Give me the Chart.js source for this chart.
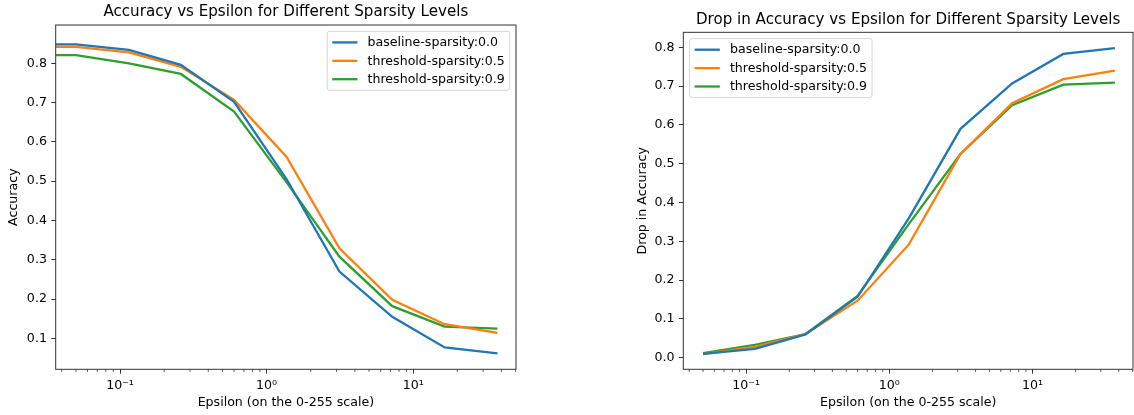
<!DOCTYPE html>
<html><head><meta charset="utf-8">
<script src="https://cdn.jsdelivr.net/npm/chart.js@4.4.1/dist/chart.umd.min.js"></script>
<style>
html,body{margin:0;padding:0;background:#fff;width:1134px;height:415px;overflow:hidden}
.box{position:absolute;top:0;height:415px}
#b1{left:0;width:560px}
#b2{left:567px;width:567px}
canvas{display:block}
</style></head><body>
<div class="box" id="b1"><canvas id="c1" width="560" height="415"></canvas></div>
<div class="box" id="b2"><canvas id="c2" width="567" height="415"></canvas></div>
<script>
// ---- data ----
const seriesLabels = ['baseline-sparsity:0.0', 'threshold-sparsity:0.5', 'threshold-sparsity:0.9'];
const seriesColors = ['#1f77b4', '#ff7f0e', '#2ca02c'];

// accuracy chart (epsilon 0 = clean accuracy)
const accEpsilons  = [0, 0.05, 0.115, 0.26, 0.6, 1.37, 3.14, 7.2, 16.4, 37.6];
const accBaseline  = [0.848, 0.848, 0.834, 0.796, 0.702, 0.505, 0.270, 0.155, 0.077, 0.062];
const accThresh05  = [0.842, 0.842, 0.828, 0.791, 0.707, 0.562, 0.329, 0.198, 0.136, 0.114];
const accThresh09  = [0.821, 0.821, 0.800, 0.773, 0.677, 0.497, 0.308, 0.182, 0.130, 0.125];

// drop-in-accuracy chart
const dropEpsilons = [0.05, 0.115, 0.26, 0.6, 1.37, 3.14, 7.2, 16.4, 37.6];
const dropBaseline = [0.010, 0.023, 0.060, 0.157, 0.360, 0.590, 0.707, 0.783, 0.798];
const dropThresh05 = [0.009, 0.028, 0.061, 0.147, 0.292, 0.525, 0.656, 0.718, 0.740];
const dropThresh09 = [0.012, 0.033, 0.061, 0.159, 0.345, 0.525, 0.651, 0.704, 0.709];

// ticks
const xTickValues = [0.1, 1, 10];
const xTickLabels = ['10\u207B\u00B9', '10\u2070', '10\u00B9'];
const accTicks  = [0.1, 0.2, 0.3, 0.4, 0.5, 0.6, 0.7, 0.8];
const dropTicks = [0.0, 0.1, 0.2, 0.3, 0.4, 0.5, 0.6, 0.7, 0.8];

const xAxisTitle = 'Epsilon (on the 0-255 scale)';
const xMin = 0.0364, xMax = 50.3;

// ---- styling ----
Chart.defaults.font.family = '"DejaVu Sans", sans-serif';
Chart.defaults.color = '#000';
const FS = 12.6;
const LW = 2.3;

const framePlugin = {
  id: 'frame',
  afterDatasetsDraw(chart) {
    const {ctx, chartArea: ca} = chart;
    ctx.save();
    ctx.strokeStyle = '#333';
    ctx.lineWidth = 1;
    ctx.strokeRect(ca.left, ca.top, ca.right - ca.left, ca.bottom - ca.top);
    // minor log ticks
    const sx = chart.scales.x;
    ctx.lineWidth = 0.8;
    ctx.beginPath();
    for (let k = -2; k <= 1; k++) {
      for (let m = 2; m <= 9; m++) {
        const v = m * Math.pow(10, k);
        if (v <= sx.min || v >= sx.max) continue;
        const px = sx.getPixelForValue(v);
        ctx.moveTo(px, ca.bottom);
        ctx.lineTo(px, ca.bottom + 2.6);
      }
    }
    ctx.stroke();
    ctx.restore();
  }
};

const boxLegendPlugin = {
  id: 'boxLegend',
  afterDatasetsDraw(chart, args, opts) {
    const {ctx, chartArea: ca} = chart;
    ctx.save();
    ctx.font = FS + 'px "DejaVu Sans"';
    const items = chart.data.datasets;
    const textW = Math.max(...items.map(d => ctx.measureText(d.label).width));
    const pad = 0.4 * FS, handleLen = 2 * FS, handlePad = 0.8 * FS, spacing = 0.5 * FS, axPad = 0.5 * FS;
    const rowH = 12.1;
    const w = pad + handleLen + handlePad + textW + pad;
    const h = 2 * pad + items.length * rowH + (items.length - 1) * spacing;
    const left = opts.corner === 'right' ? ca.right - axPad - w : ca.left + axPad;
    const top = ca.top + axPad;
    const r = 2.5;
    ctx.beginPath();
    ctx.moveTo(left + r, top);
    ctx.lineTo(left + w - r, top);
    ctx.arcTo(left + w, top, left + w, top + r, r);
    ctx.lineTo(left + w, top + h - r);
    ctx.arcTo(left + w, top + h, left + w - r, top + h, r);
    ctx.lineTo(left + r, top + h);
    ctx.arcTo(left, top + h, left, top + h - r, r);
    ctx.lineTo(left, top + r);
    ctx.arcTo(left, top, left + r, top, r);
    ctx.closePath();
    ctx.fillStyle = 'rgba(255,255,255,0.8)';
    ctx.fill();
    ctx.strokeStyle = 'rgba(204,204,204,0.8)';
    ctx.lineWidth = 1;
    ctx.stroke();
    items.forEach((d, i) => {
      const cy = top + pad + rowH / 2 + i * (rowH + spacing);
      ctx.strokeStyle = d.borderColor;
      ctx.lineWidth = LW;
      ctx.beginPath();
      ctx.moveTo(left + pad, cy);
      ctx.lineTo(left + pad + handleLen, cy);
      ctx.stroke();
      ctx.fillStyle = '#000';
      ctx.textBaseline = 'middle';
      ctx.textAlign = 'left';
      ctx.fillText(d.label, left + pad + handleLen + handlePad, cy + 0.5);
    });
    ctx.restore();
  }
};

function buildChart(id, o) {
  const datasets = o.series.map((vals, i) => ({
    label: seriesLabels[i],
    data: o.eps.map((e, j) => ({x: e, y: vals[j]})),
    borderColor: seriesColors[i],
    backgroundColor: seriesColors[i],
    borderWidth: LW,
    pointRadius: 0,
    pointHoverRadius: 0,
    tension: 0,
    fill: false
  }));
  return new Chart(document.getElementById(id), {
    type: 'line',
    data: {datasets},
    options: {
      responsive: false,
      animation: false,
      devicePixelRatio: 1,
      layout: {padding: o.padding},
      plugins: {
        legend: {display: false},
        tooltip: {enabled: false},
        title: {
          display: true, text: o.title, fullSize: false, color: '#000',
          font: {size: 15.1, weight: 'normal', lineHeight: 1.2},
          padding: {top: 3.5, bottom: 3.4}
        },
        boxLegend: {corner: o.legendCorner}
      },
      scales: {
        x: {
          type: 'logarithmic', min: xMin, max: xMax,
          afterBuildTicks: s => { s.ticks = xTickValues.map(v => ({value: v, major: true})); },
          afterFit: s => { s.height = o.xHeight; },
          ticks: {
            autoSkip: false, maxRotation: 0, minRotation: 0, padding: 4.4,
            font: {size: FS}, color: '#000',
            callback: (v, i) => xTickLabels[i]
          },
          grid: {display: true, drawOnChartArea: false, drawTicks: true, tickLength: 4.4, tickColor: '#333', tickWidth: 1},
          border: {display: false},
          title: {display: true, text: xAxisTitle, color: '#000', font: {size: FS}, padding: {top: 0, bottom: 4.9}}
        },
        y: {
          type: 'linear', min: o.yMin, max: o.yMax,
          afterBuildTicks: s => { s.ticks = o.yTicks.map(v => ({value: v})); },
          afterFit: s => { s.width = o.yWidth; },
          ticks: {
            padding: 4.4, font: {size: FS}, color: '#000',
            callback: v => Number(v).toFixed(1)
          },
          grid: {display: true, drawOnChartArea: false, drawTicks: true, tickLength: 4.4, tickColor: '#333', tickWidth: 1},
          border: {display: false},
          title: {display: true, text: o.yTitle, color: '#000', font: {size: FS}, padding: {top: 6.4, bottom: 0}}
        }
      }
    },
    plugins: [framePlugin, boxLegendPlugin]
  });
}

buildChart('c1', {
  title: 'Accuracy vs Epsilon for Different Sparsity Levels',
  yTitle: 'Accuracy',
  eps: accEpsilons,
  series: [accBaseline, accThresh05, accThresh09],
  yMin: 0.0213, yMax: 0.8975, yTicks: accTicks,
  padding: {left: 0, top: 0, right: 44, bottom: 0},
  yWidth: 55.7, xHeight: 45.7,
  legendCorner: 'right'
});

buildChart('c2', {
  title: 'Drop in Accuracy vs Epsilon for Different Sparsity Levels',
  yTitle: 'Drop in Accuracy',
  eps: dropEpsilons,
  series: [dropBaseline, dropThresh05, dropThresh09],
  yMin: -0.0299, yMax: 0.8387, yTicks: dropTicks,
  padding: {left: 61.5, top: 7.3, right: 1, bottom: 0},
  yWidth: 54.8, xHeight: 45.7,
  legendCorner: 'left'
});
</script>
</body></html>
